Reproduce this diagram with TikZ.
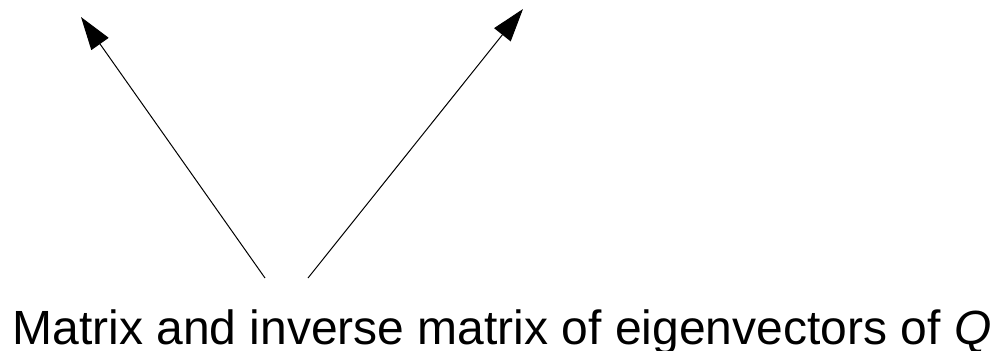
\documentclass[tikz,border=0pt]{standalone}
\usepackage{fontspec}
\setmainfont{Liberation Sans}
\usetikzlibrary{arrows.meta}
\tikzset{
  conn/.style={line width=1pt, -{Triangle[length=33pt,width=21pt]}},
  lbl/.style={font=\fontsize{48}{52}\selectfont, inner sep=0pt, anchor=base}
}
\begin{document}
\begin{tikzpicture}[x=1pt,y=-1pt]
\useasboundingbox (0,0) rectangle (997,351);
\node[lbl] (t) at (502,344) {Matrix and inverse matrix of eigenvectors of \textit{Q}};
\coordinate (s1) at (265,278);
\coordinate (s2) at (308,278);
\coordinate (e1) at (81,17);
\coordinate (e2) at (523,9);
\draw[conn] (s1) -- (e1);
\draw[conn] (s2) -- (e2);
\end{tikzpicture}
\end{document}
